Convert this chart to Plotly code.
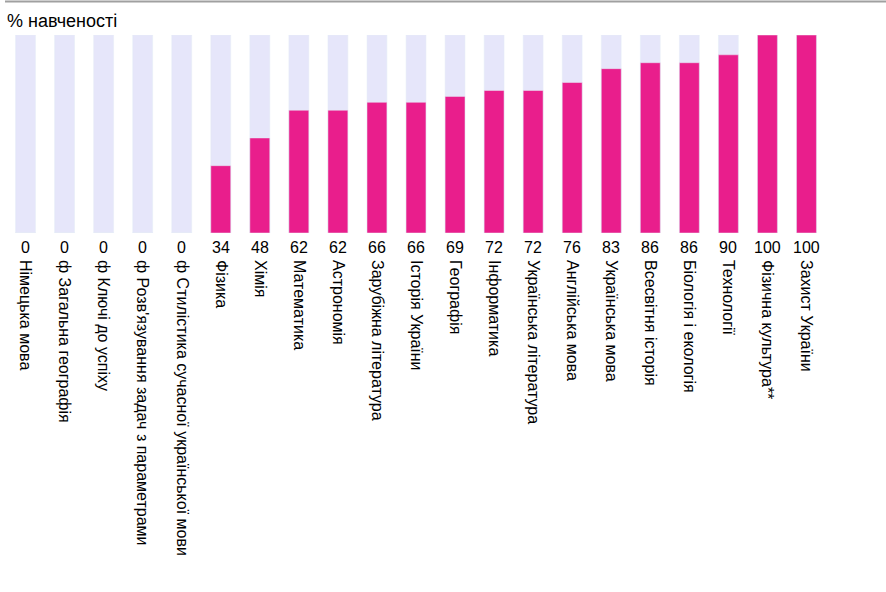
import plotly.graph_objects as go

categories = ["Німецька мова", "ф Загальна географія", "ф Ключі до успіху",
              "ф Розв'язування задач з параметрами", "ф Стилістика сучасної української мови",
              "Фізика", "Хімія", "Математика", "Астрономія", "Зарубіжна література",
              "Історія України", "Географія", "Інформатика", "Українська література",
              "Англійська мова", "Українська мова", "Всесвітня історія", "Біологія і екологія",
              "Технології", "Фізична культура**", "Захист України"]
values = [0, 0, 0, 0, 0, 34, 48, 62, 62, 66, 66, 69, 72, 72, 76, 83, 86, 86, 90, 100, 100]
full = [100] * len(categories)

W, H = 886, 592
L, R, T, B = 6, 60, 35, 359

fig = go.Figure()
fig.add_trace(go.Bar(x=categories, y=full, marker_color="#E6E6FA", width=0.51,
                     hoverinfo="skip", showlegend=False))
fig.add_trace(go.Bar(x=categories, y=values, marker_color="#E91E8C", width=0.51,
                     showlegend=False))

for c, v in zip(categories, values):
    fig.add_annotation(x=c, y=0, text=str(v), showarrow=False, yanchor="top",
                       yshift=-4, font=dict(size=16, color="#000"))

fig.add_annotation(xref="paper", yref="paper", x=(5 - L) / (W - L - R),
                   y=1 + (T - 33) / (H - T - B), xanchor="left", yanchor="bottom",
                   text="% навченості", showarrow=False,
                   font=dict(size=18, color="#000"))

fig.add_shape(type="line", xref="paper", yref="paper",
              x0=(5 - L) / (W - L - R), x1=(W - L) / (W - L - R),
              y0=1 + (T - 1.5) / (H - T - B), y1=1 + (T - 1.5) / (H - T - B),
              line=dict(color="#A0A0A0", width=2))

fig.update_layout(
    width=W, height=H, barmode="overlay",
    margin=dict(l=L, r=R, t=T, b=B),
    paper_bgcolor="white", plot_bgcolor="white",
    font=dict(family="Liberation Sans, Arial, sans-serif", size=16, color="#000"),
    xaxis=dict(tickangle=90, showgrid=False, zeroline=False, showline=False,
               ticks="", ticklabelstandoff=26, tickfont=dict(size=16)),
    yaxis=dict(range=[0, 100], visible=False, fixedrange=True),
)

fig.write_html("out.html", config={"displayModeBar": False},
               post_script="document.body.style.margin='0';document.body.style.overflow='hidden';")
